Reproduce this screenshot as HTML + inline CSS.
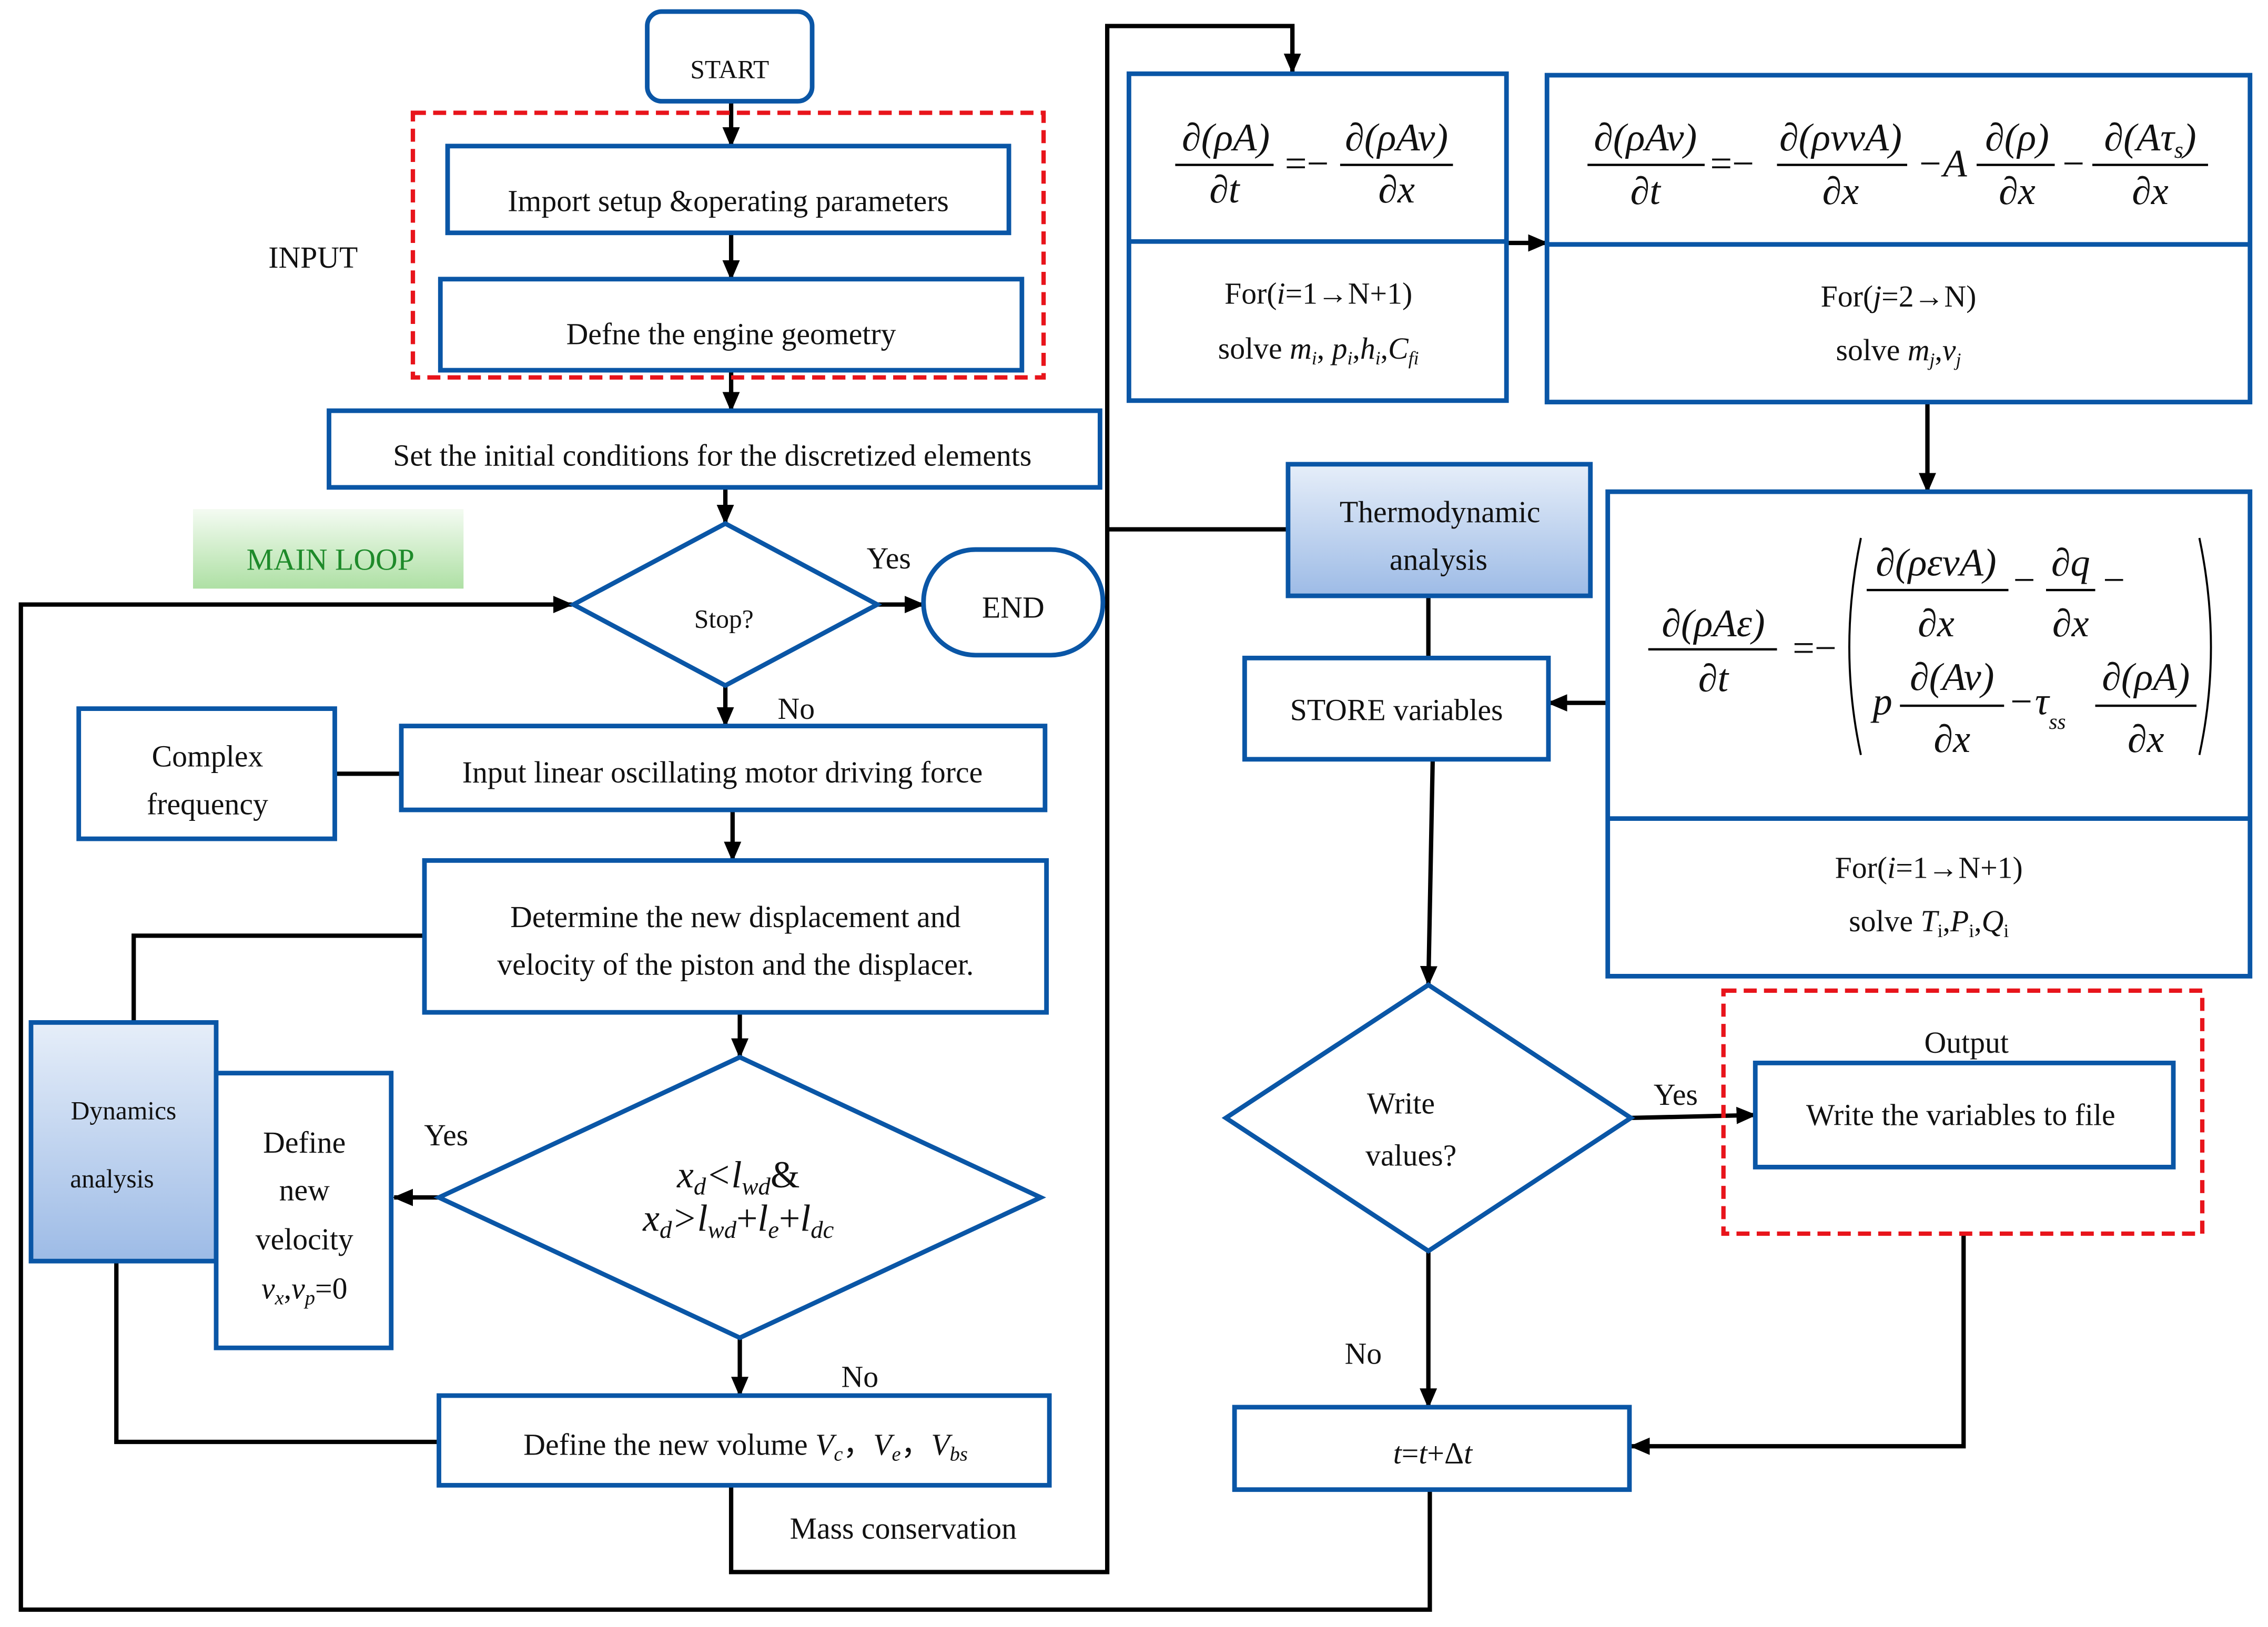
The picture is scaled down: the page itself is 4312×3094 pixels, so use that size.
<!DOCTYPE html>
<html><head><meta charset="utf-8"><style>
html,body{margin:0;padding:0;background:#fff;}
svg{display:block;}
text{font-family:"Liberation Serif",serif;fill:#111;}
.t{font-size:21px;text-anchor:middle;}
.m{font-family:"Liberation Serif",serif;font-style:italic;font-size:27px;text-anchor:middle;}
.b{fill:#fff;stroke:#0a56a6;stroke-width:3.2;}
.l{fill:none;stroke:#000;stroke-width:3;}
.fr{stroke:#000;stroke-width:1.6;}
</style></head><body>
<svg width="4312" height="3094" viewBox="0 0 1567 1125" xmlns="http://www.w3.org/2000/svg">
<defs>
<marker id="A" markerWidth="14" markerHeight="14" refX="13" refY="7" orient="auto" markerUnits="userSpaceOnUse" viewBox="0 0 14 14"><path d="M0,1 L14,7 L0,13 z" fill="#000"/></marker>
<linearGradient id="g" x1="0" y1="0" x2="0" y2="1"><stop offset="0" stop-color="#e6eef9"/><stop offset="1" stop-color="#9dbbe6"/></linearGradient>
<linearGradient id="gg" x1="0" y1="0" x2="0" y2="1"><stop offset="0" stop-color="#f4fbf2"/><stop offset="1" stop-color="#aee0a4"/></linearGradient>
</defs>

<g class="l">
<line x1="505" y1="70" x2="505" y2="101" marker-end="url(#A)"/>
<line x1="505" y1="161" x2="505" y2="193" marker-end="url(#A)"/>
<line x1="505" y1="256" x2="505" y2="284" marker-end="url(#A)"/>
<line x1="501" y1="337" x2="501" y2="362" marker-end="url(#A)"/>
<line x1="606" y1="418" x2="638" y2="418" marker-end="url(#A)"/>
<polyline points="988,1030 988,1113 14,1113 14,418 395,418" marker-end="url(#A)"/>
<line x1="501" y1="474" x2="501" y2="502" marker-end="url(#A)"/>
<line x1="231" y1="535" x2="277" y2="535"/>
<line x1="506" y1="560" x2="506" y2="595" marker-end="url(#A)"/>
<polyline points="293,647 92,647 92,707"/>
<line x1="511" y1="700" x2="511" y2="731" marker-end="url(#A)"/>
<line x1="303" y1="828" x2="272" y2="828" marker-end="url(#A)"/>
<line x1="511" y1="925" x2="511" y2="965" marker-end="url(#A)"/>
<polyline points="80,872 80,997 303,997"/>
<polyline points="505,1027 505,1087 765,1087 765,18 893,18 893,50" marker-end="url(#A)"/>
<line x1="765" y1="366" x2="890" y2="366"/>
<line x1="1041" y1="168" x2="1069" y2="168" marker-end="url(#A)"/>
<line x1="1332" y1="278" x2="1332" y2="340" marker-end="url(#A)"/>
<line x1="1111" y1="486" x2="1070" y2="486" marker-end="url(#A)"/>
<line x1="987" y1="412" x2="987" y2="455"/>
<polyline points="990,525 987,681" marker-end="url(#A)"/>
<line x1="1127" y1="773" x2="1213" y2="771" marker-end="url(#A)"/>
<polyline points="1357,853 1357,1000 1127,1000" marker-end="url(#A)"/>
<line x1="987" y1="865" x2="987" y2="973" marker-end="url(#A)"/>
</g>

<rect class="b" x="447" y="8" width="114" height="62" rx="10"/>
<text class="t" x="504" y="54" style="font-size:18px">START</text>
<rect x="285" y="78" width="436" height="183" fill="none" stroke="#e8141b" stroke-width="3" stroke-dasharray="9,5"/>
<rect class="b" x="309" y="101" width="388" height="60"/>
<text class="t" x="503" y="146">Import setup &amp;operating parameters</text>
<rect class="b" x="304" y="193" width="402" height="63"/>
<text class="t" x="505" y="238">Defne the engine geometry</text>
<text class="t" x="216" y="185">INPUT</text>
<rect class="b" x="227" y="284" width="533" height="53"/>
<text class="t" x="492" y="322">Set the initial conditions for the discretized elements</text>
<rect x="133" y="352" width="187" height="55" fill="url(#gg)"/>
<text class="t" x="228" y="394" style="fill:#1e8a2a">MAIN LOOP</text>
<polygon class="b" points="396,418 501,362 606,418 501,474"/>
<text class="t" x="500" y="434" style="font-size:18px">Stop?</text>
<rect class="b" x="638" y="380" width="124" height="73" rx="36"/>
<text class="t" x="700" y="427">END</text>
<text class="t" x="614" y="393">Yes</text>
<text class="t" x="550" y="497">No</text>
<rect class="b" x="54" y="490" width="177" height="90"/>
<text class="t" x="143" y="530">Complex</text>
<text class="t" x="143" y="563">frequency</text>
<rect class="b" x="277" y="502" width="445" height="58"/>
<text class="t" x="499" y="541">Input linear oscillating motor driving force</text>
<rect class="b" x="293" y="595" width="430" height="105"/>
<text class="t" x="508" y="641">Determine the new displacement and</text>
<text class="t" x="508" y="674">velocity of the piston and the displacer.</text>
<rect x="21" y="707" width="128" height="165" fill="url(#g)" stroke="#0a56a6" stroke-width="3.2"/>
<text class="t" x="85" y="774" style="font-size:18px">Dynamics</text>
<text class="t" x="77" y="821" style="font-size:18px">analysis</text>
<rect class="b" x="149" y="742" width="121" height="190"/>
<text class="t" x="210" y="797">Define</text>
<text class="t" x="210" y="830">new</text>
<text class="t" x="210" y="864">velocity</text>
<text class="t" x="210" y="898" style="font-style:italic">v<tspan style="font-size:14px" dy="4">x</tspan><tspan dy="-4" style="font-style:normal">,</tspan>v<tspan style="font-size:14px" dy="4">p</tspan><tspan dy="-4" style="font-style:normal">=0</tspan></text>
<polygon class="b" points="303,828 511,731 719,828 511,925"/>
<text class="m" x="510" y="821" style="font-size:26px">x<tspan style="font-size:17px" dy="5">d</tspan><tspan dy="-5">&lt;l</tspan><tspan style="font-size:17px" dy="5">wd</tspan><tspan dy="-5" style="font-style:normal">&amp;</tspan></text>
<text class="m" x="510" y="851" style="font-size:26px">x<tspan style="font-size:17px" dy="5">d</tspan><tspan dy="-5">&gt;l</tspan><tspan style="font-size:17px" dy="5">wd</tspan><tspan dy="-5" style="font-style:normal">+</tspan>l<tspan style="font-size:17px" dy="5">e</tspan><tspan dy="-5" style="font-style:normal">+</tspan>l<tspan style="font-size:17px" dy="5">dc</tspan></text>
<text class="t" x="308" y="792">Yes</text>
<text class="t" x="594" y="959">No</text>
<rect class="b" x="303" y="965" width="422" height="62"/>
<text class="t" x="515" y="1006">Define the new volume <tspan font-style="italic">V</tspan><tspan style="font-size:14px;font-style:italic" dy="4">c</tspan><tspan dy="-4">，</tspan><tspan font-style="italic">V</tspan><tspan style="font-size:14px;font-style:italic" dy="4">e</tspan><tspan dy="-4">，</tspan><tspan font-style="italic">V</tspan><tspan style="font-size:14px;font-style:italic" dy="4">bs</tspan></text>
<text class="t" x="624" y="1064">Mass conservation</text>

<rect class="b" x="780" y="51" width="261" height="226"/>
<line x1="780" y1="167" x2="1041" y2="167" stroke="#0a56a6" stroke-width="3.2"/>
<text class="m" x="847" y="104">∂(ρA)</text>
<line class="fr" x1="812" y1="114" x2="880" y2="114"/>
<text class="m" x="846" y="140">∂t</text>
<text class="m" x="903" y="122" style="font-style:normal">=−</text>
<text class="m" x="965" y="104">∂(ρAv)</text>
<line class="fr" x1="926" y1="114" x2="1004" y2="114"/>
<text class="m" x="965" y="140">∂x</text>
<text class="t" x="911" y="210">For(<tspan font-style="italic">i</tspan>=1→N+1)</text>
<text class="t" x="911" y="248">solve <tspan font-style="italic">m</tspan><tspan style="font-size:13px;font-style:italic" dy="4">i</tspan><tspan dy="-4">, </tspan><tspan font-style="italic">p</tspan><tspan style="font-size:13px;font-style:italic" dy="4">i</tspan><tspan dy="-4">,</tspan><tspan font-style="italic">h</tspan><tspan style="font-size:13px;font-style:italic" dy="4">i</tspan><tspan dy="-4">,</tspan><tspan font-style="italic">C</tspan><tspan style="font-size:13px;font-style:italic" dy="4">fi</tspan></text>

<rect class="b" x="1069" y="52" width="486" height="226"/>
<line x1="1069" y1="169" x2="1555" y2="169" stroke="#0a56a6" stroke-width="3.2"/>
<text class="m" x="1137" y="104">∂(ρAv)</text>
<line class="fr" x1="1097" y1="114" x2="1178" y2="114"/>
<text class="m" x="1137" y="141">∂t</text>
<text class="m" x="1197" y="122" style="font-style:normal">=−</text>
<text class="m" x="1272" y="104">∂(ρvvA)</text>
<line class="fr" x1="1228" y1="114" x2="1318" y2="114"/>
<text class="m" x="1272" y="141">∂x</text>
<text class="m" x="1342" y="122">−A</text>
<text class="m" x="1394" y="104">∂(ρ)</text>
<line class="fr" x1="1366" y1="114" x2="1420" y2="114"/>
<text class="m" x="1394" y="141">∂x</text>
<text class="m" x="1433" y="122" style="font-style:normal">−</text>
<text class="m" x="1486" y="104">∂(Aτ<tspan style="font-size:16px" dy="5">s</tspan><tspan dy="-5">)</tspan></text>
<line class="fr" x1="1446" y1="114" x2="1526" y2="114"/>
<text class="m" x="1486" y="141">∂x</text>
<text class="t" x="1312" y="212">For(<tspan font-style="italic">j</tspan>=2→N)</text>
<text class="t" x="1312" y="249">solve <tspan font-style="italic">m</tspan><tspan style="font-size:13px;font-style:italic" dy="4">j</tspan><tspan dy="-4">,</tspan><tspan font-style="italic">v</tspan><tspan style="font-size:13px;font-style:italic" dy="4">j</tspan></text>

<rect class="b" x="1111" y="340" width="444" height="335"/>
<line x1="1111" y1="566" x2="1555" y2="566" stroke="#0a56a6" stroke-width="3.2"/>
<text class="m" x="1184" y="440">∂(ρAε)</text>
<line class="fr" x1="1139" y1="449" x2="1228" y2="449"/>
<text class="m" x="1184" y="478">∂t</text>
<text class="m" x="1254" y="457" style="font-style:normal">=−</text>
<path d="M1286,372 Q1270,448 1286,522" fill="none" stroke="#000" stroke-width="1.4"/>
<path d="M1520,372 Q1536,448 1520,522" fill="none" stroke="#000" stroke-width="1.4"/>
<text class="m" x="1338" y="398">∂(ρεvA)</text>
<line class="fr" x1="1290" y1="408" x2="1388" y2="408"/>
<text class="m" x="1338" y="440">∂x</text>
<text class="m" x="1399" y="410" style="font-style:normal">−</text>
<text class="m" x="1431" y="398">∂q</text>
<line class="fr" x1="1414" y1="408" x2="1448" y2="408"/>
<text class="m" x="1431" y="440">∂x</text>
<text class="m" x="1461" y="410" style="font-style:normal">−</text>
<text class="m" x="1301" y="494">p</text>
<text class="m" x="1349" y="477">∂(Av)</text>
<line class="fr" x1="1313" y1="488" x2="1385" y2="488"/>
<text class="m" x="1349" y="520">∂x</text>
<text class="m" x="1397" y="494" style="font-style:normal">−</text>
<text class="m" x="1417" y="494">τ<tspan style="font-size:15px" dy="10">ss</tspan></text>
<text class="m" x="1483" y="477">∂(ρA)</text>
<line class="fr" x1="1448" y1="488" x2="1518" y2="488"/>
<text class="m" x="1483" y="520">∂x</text>
<text class="t" x="1333" y="607">For(<tspan font-style="italic">i</tspan>=1→N+1)</text>
<text class="t" x="1333" y="644">solve <tspan font-style="italic">T</tspan><tspan style="font-size:13px" dy="4">i</tspan><tspan dy="-4">,</tspan><tspan font-style="italic">P</tspan><tspan style="font-size:13px" dy="4">i</tspan><tspan dy="-4">,</tspan><tspan font-style="italic">Q</tspan><tspan style="font-size:13px" dy="4">i</tspan></text>

<rect x="890" y="321" width="209" height="91" fill="url(#g)" stroke="#0a56a6" stroke-width="3.2"/>
<text class="t" x="995" y="361">Thermodynamic</text>
<text class="t" x="994" y="394">analysis</text>
<rect class="b" x="860" y="455" width="210" height="70"/>
<text class="t" x="965" y="498">STORE variables</text>
<polygon class="b" points="847,773 987,681 1127,773 987,865"/>
<text class="t" x="968" y="770">Write</text>
<text class="t" x="975" y="806">values?</text>
<text class="t" x="1158" y="764">Yes</text>
<text class="t" x="942" y="943">No</text>
<rect x="1191" y="685" width="331" height="168" fill="none" stroke="#e8141b" stroke-width="3" stroke-dasharray="9,5"/>
<text class="t" x="1359" y="728">Output</text>
<rect class="b" x="1213" y="735" width="289" height="72"/>
<text class="t" x="1355" y="778">Write the variables to file</text>
<rect class="b" x="853" y="973" width="273" height="57"/>
<text class="t" x="990" y="1012" style="font-style:italic">t<tspan font-style="normal">=</tspan>t<tspan font-style="normal">+Δ</tspan>t</text>
</svg>
</body></html>
